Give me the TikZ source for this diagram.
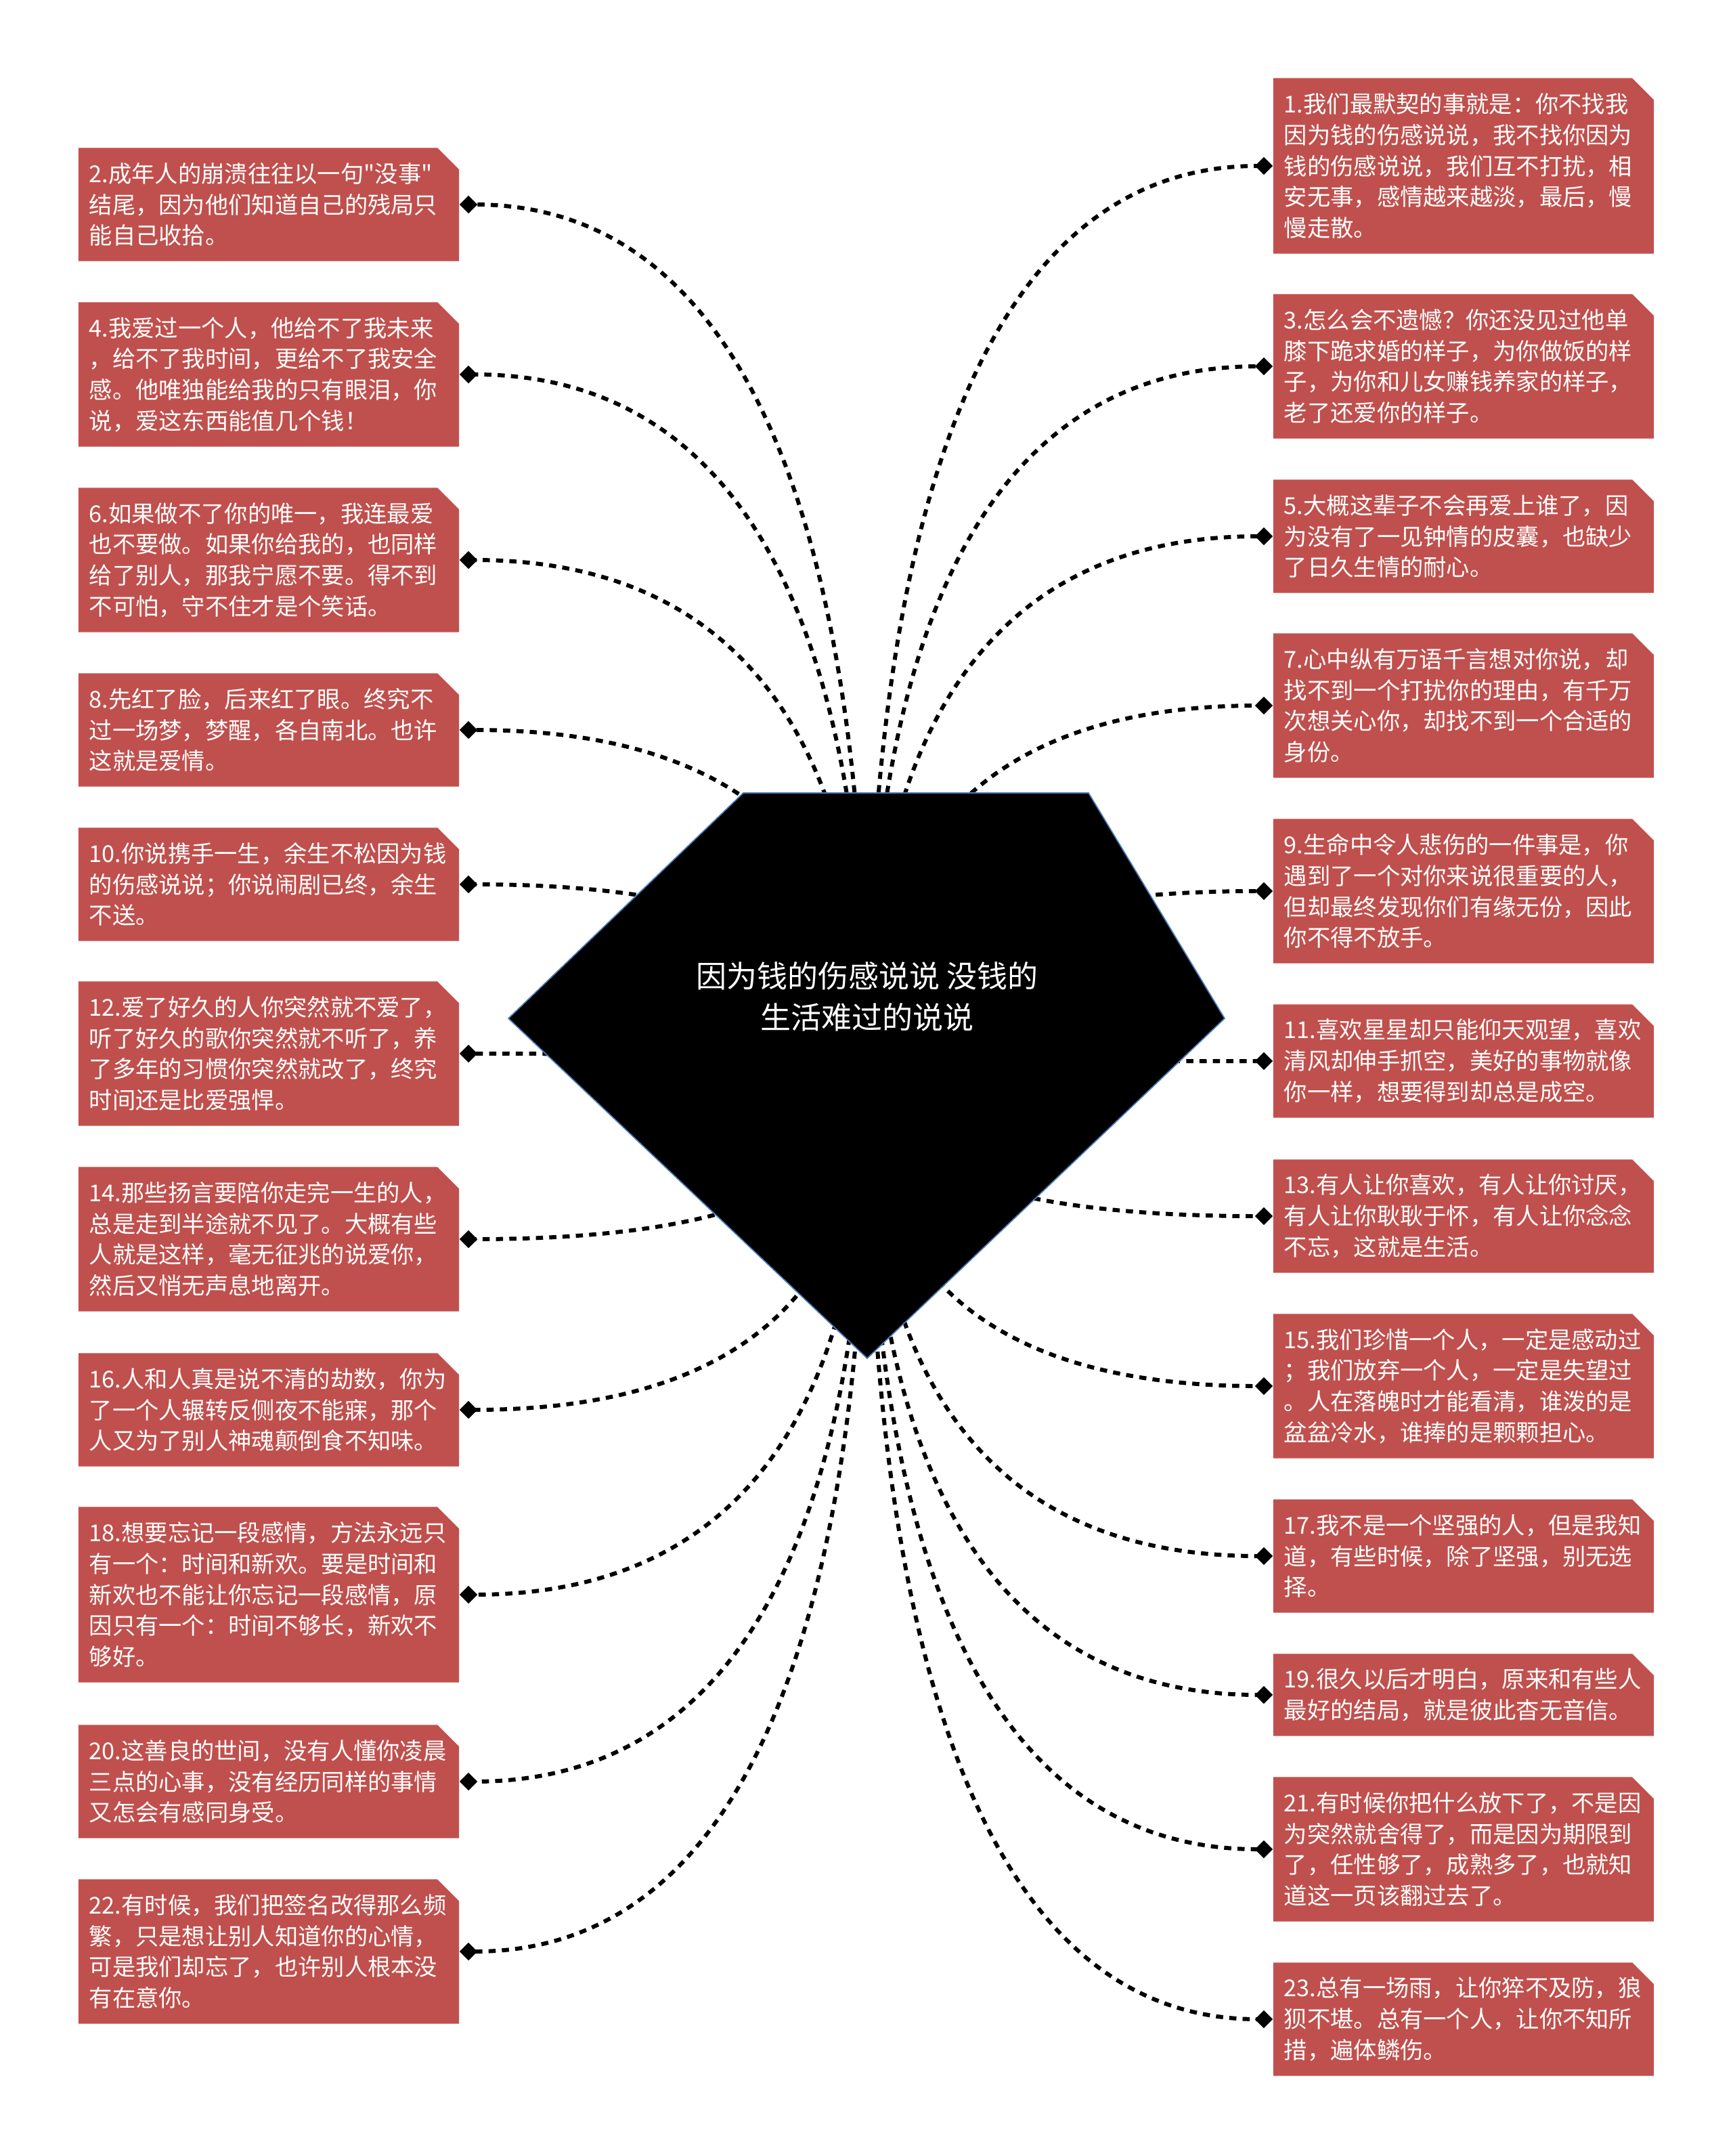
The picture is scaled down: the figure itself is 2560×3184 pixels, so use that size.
\documentclass[tikz,border=0pt]{standalone}
\usepackage{fontspec}
\setmainfont{Noto Sans CJK SC}[Ligatures=TeXOff]
\usetikzlibrary{arrows.meta,calc,shapes.misc}
\definecolor{leafred}{RGB}{192,80,77}
\definecolor{gemblue}{RGB}{74,126,187}
\tikzset{
  leaf/.style={chamfered rectangle, chamfered rectangle corners=north east,
    chamfered rectangle xsep=0.16cm, chamfered rectangle ysep=0.16cm,
    fill=leafred, text=white, inner xsep=0pt, inner ysep=0pt,
    text width=5.3cm, align=left, minimum width=5.62cm,
    minimum height=#1*0.459cm+0.295cm, font=\fontsize{9.75pt}{13pt}\selectfont},
  link/.style={line width=1.7pt, dash pattern=on 3pt off 2.6pt,
    -{Diamond[length=7.5pt,width=7.5pt]},
    to path={.. controls ($(\tikztostart)!2/3!(\tikztostart |- \tikztotarget)$)
      and ($(\tikztotarget)!2/3!(\tikztostart |- \tikztotarget)$) .. (\tikztotarget)}},
  gem/.style={fill=black, draw=gemblue, line width=0.5pt}
}
\begin{document}
\begin{tikzpicture}[x=0.01cm, y=-0.01cm]
\path[use as bounding box, fill=white] (0,0) rectangle (2560,3184);
\node[leaf=5] (b1) at (2162,245) {1.我们最默契的事就是：你不找我\\因为钱的伤感说说，我不找你因为\\钱的伤感说说，我们互不打扰，相\\安无事，感情越来越淡，最后，慢\\慢走散。};
\node[leaf=3] (b2) at (397,302) {2.成年人的崩溃往往以一句"没事"\\结尾，因为他们知道自己的残局只\\能自己收拾。};
\node[leaf=4] (b3) at (2162,541) {3.怎么会不遗憾？你还没见过他单\\膝下跪求婚的样子，为你做饭的样\\子，为你和儿女赚钱养家的样子，\\老了还爱你的样子。};
\node[leaf=4] (b4) at (397,553) {4.我爱过一个人，他给不了我未来\\，给不了我时间，更给不了我安全\\感。他唯独能给我的只有眼泪，你\\说，爱这东西能值几个钱！};
\node[leaf=3] (b5) at (2162,792) {5.大概这辈子不会再爱上谁了，因\\为没有了一见钟情的皮囊，也缺少\\了日久生情的耐心。};
\node[leaf=4] (b6) at (397,827) {6.如果做不了你的唯一，我连最爱\\也不要做。如果你给我的，也同样\\给了别人，那我宁愿不要。得不到\\不可怕，守不住才是个笑话。};
\node[leaf=4] (b7) at (2162,1042) {7.心中纵有万语千言想对你说，却\\找不到一个打扰你的理由，有千万\\次想关心你，却找不到一个合适的\\身份。};
\node[leaf=3] (b8) at (397,1078) {8.先红了脸，后来红了眼。终究不\\过一场梦，梦醒，各自南北。也许\\这就是爱情。};
\node[leaf=4] (b9) at (2162,1316) {9.生命中令人悲伤的一件事是，你\\遇到了一个对你来说很重要的人，\\但却最终发现你们有缘无份，因此\\你不得不放手。};
\node[leaf=3] (b10) at (397,1306) {10.你说携手一生，余生不松因为钱\\的伤感说说；你说闹剧已终，余生\\不送。};
\node[leaf=3] (b11) at (2162,1567) {11.喜欢星星却只能仰天观望，喜欢\\清风却伸手抓空，美好的事物就像\\你一样，想要得到却总是成空。};
\node[leaf=4] (b12) at (397,1556) {12.爱了好久的人你突然就不爱了，\\听了好久的歌你突然就不听了，养\\了多年的习惯你突然就改了，终究\\时间还是比爱强悍。};
\node[leaf=3] (b13) at (2162,1796) {13.有人让你喜欢，有人让你讨厌，\\有人让你耿耿于怀，有人让你念念\\不忘，这就是生活。};
\node[leaf=4] (b14) at (397,1830) {14.那些扬言要陪你走完一生的人，\\总是走到半途就不见了。大概有些\\人就是这样，毫无征兆的说爱你，\\然后又悄无声息地离开。};
\node[leaf=4] (b15) at (2162,2047) {15.我们珍惜一个人，一定是感动过\\；我们放弃一个人，一定是失望过\\。人在落魄时才能看清，谁泼的是\\盆盆冷水，谁捧的是颗颗担心。};
\node[leaf=3] (b16) at (397,2082) {16.人和人真是说不清的劫数，你为\\了一个人辗转反侧夜不能寐，那个\\人又为了别人神魂颠倒食不知味。};
\node[leaf=3] (b17) at (2162,2298) {17.我不是一个坚强的人，但是我知\\道，有些时候，除了坚强，别无选\\择。};
\node[leaf=5] (b18) at (397,2355) {18.想要忘记一段感情，方法永远只\\有一个：时间和新欢。要是时间和\\新欢也不能让你忘记一段感情，原\\因只有一个：时间不够长，新欢不\\够好。};
\node[leaf=2] (b19) at (2162,2503) {19.很久以后才明白，原来和有些人\\最好的结局，就是彼此杳无音信。};
\node[leaf=3] (b20) at (397,2631) {20.这善良的世间，没有人懂你凌晨\\三点的心事，没有经历同样的事情\\又怎会有感同身受。};
\node[leaf=4] (b21) at (2162,2731) {21.有时候你把什么放下了，不是因\\为突然就舍得了，而是因为期限到\\了，任性够了，成熟多了，也就知\\道这一页该翻过去了。};
\node[leaf=4] (b22) at (397,2882) {22.有时候，我们把签名改得那么频\\繁，只是想让别人知道你的心情，\\可是我们却忘了，也许别人根本没\\有在意你。};
\node[leaf=3] (b23) at (2162,2982) {23.总有一场雨，让你猝不及防，狼\\狈不堪。总有一个人，让你不知所\\措，遍体鳞伤。};
\coordinate (hub) at (1281,1583);
\draw[link] (hub) to (b1.west);
\draw[link] (hub) to (b2.east);
\draw[link] (hub) to (b3.west);
\draw[link] (hub) to (b4.east);
\draw[link] (hub) to (b5.west);
\draw[link] (hub) to (b6.east);
\draw[link] (hub) to (b7.west);
\draw[link] (hub) to (b8.east);
\draw[link] (hub) to (b9.west);
\draw[link] (hub) to (b10.east);
\draw[link] (hub) to (b11.west);
\draw[link] (hub) to (b12.east);
\draw[link] (hub) to (b13.west);
\draw[link] (hub) to (b14.east);
\draw[link] (hub) to (b15.west);
\draw[link] (hub) to (b16.east);
\draw[link] (hub) to (b17.west);
\draw[link] (hub) to (b18.east);
\draw[link] (hub) to (b19.west);
\draw[link] (hub) to (b20.east);
\draw[link] (hub) to (b21.west);
\draw[link] (hub) to (b22.east);
\draw[link] (hub) to (b23.west);
\filldraw[gem] (1098,1171) -- (1608,1171) -- (1809,1504) -- (1281,2006) -- (751,1504) -- cycle;
\node[text=white, align=center, font=\fontsize{12.8pt}{17.4pt}\selectfont] (root) at (1281,1472) {因为钱的伤感说说 没钱的\\生活难过的说说};
\end{tikzpicture}
\end{document}
